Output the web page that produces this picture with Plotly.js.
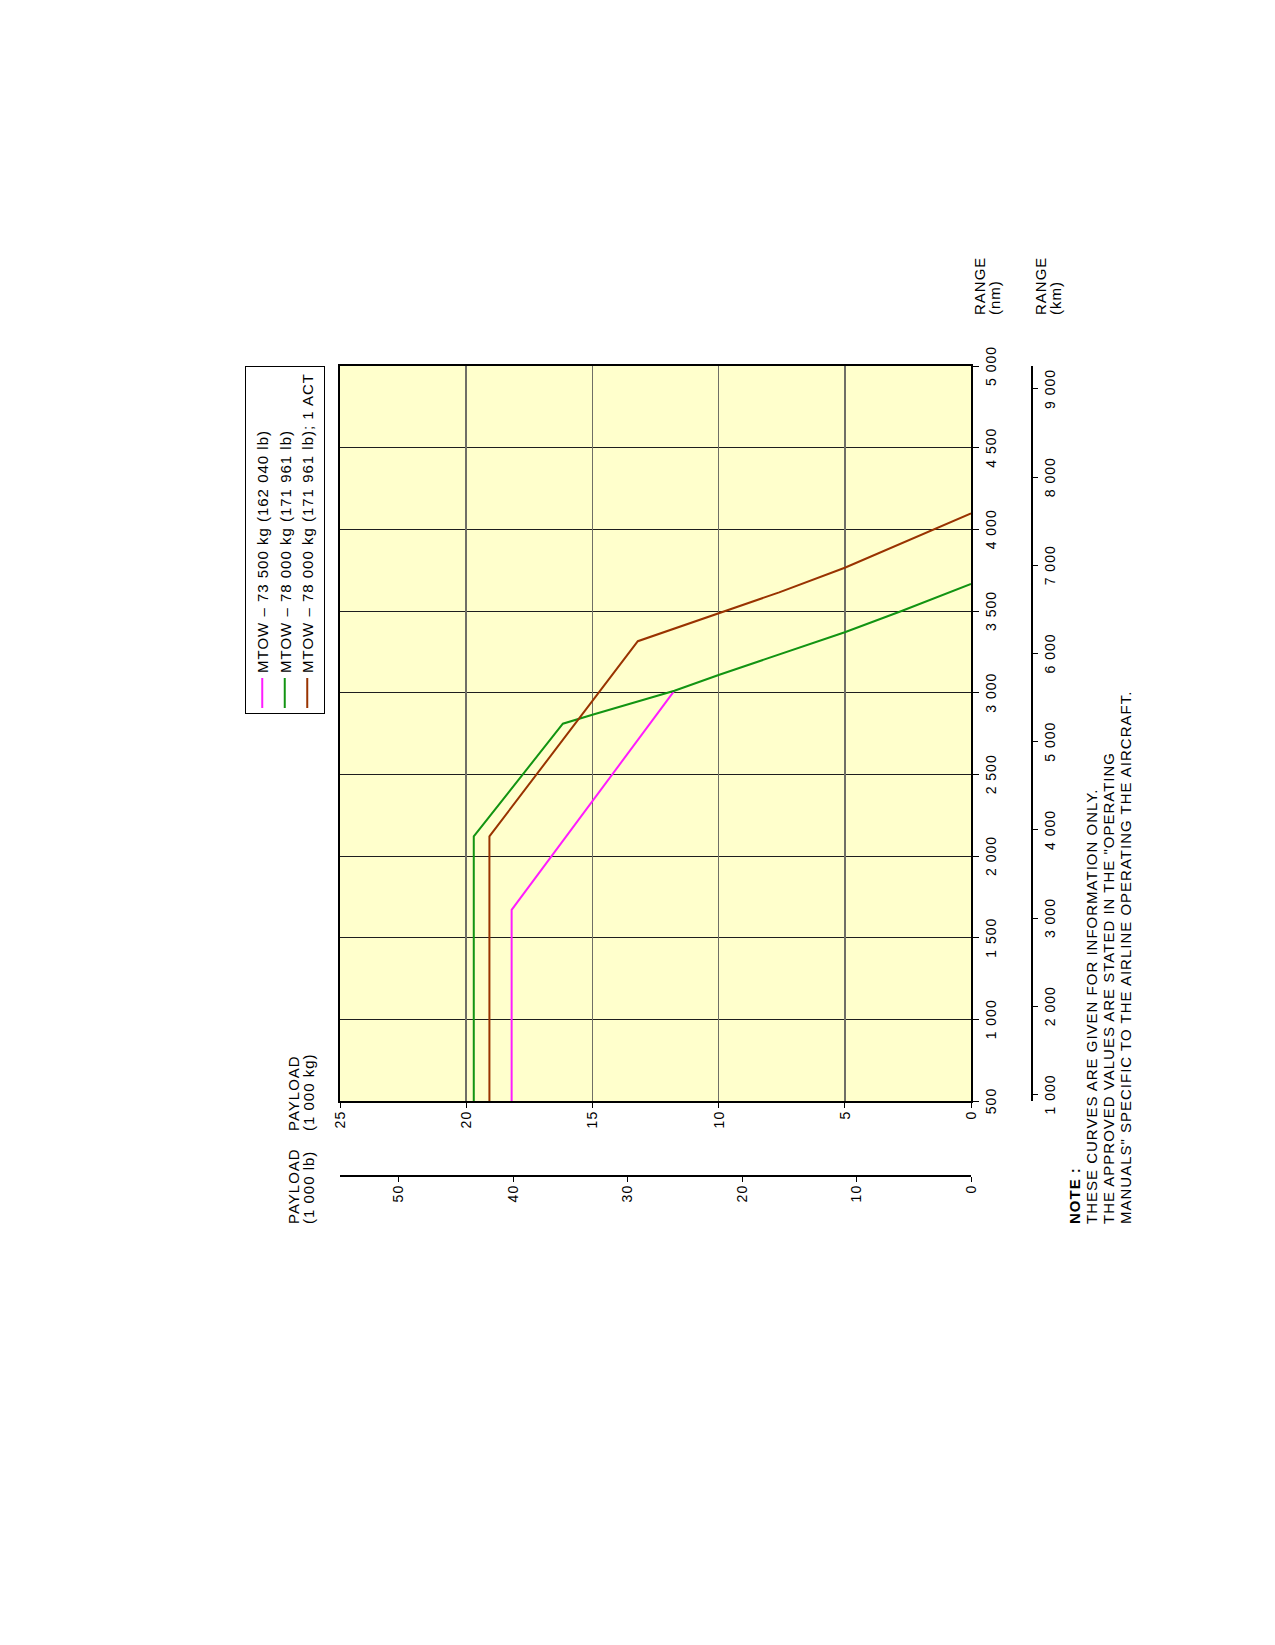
<!DOCTYPE html>
<html>
<head>
<meta charset="utf-8">
<script src="https://cdn.plot.ly/plotly-3.0.1.min.js"></script>
<style>
html,body{margin:0;padding:0;width:1275px;height:1645px;overflow:hidden;background:#fff;}
#wrap{position:absolute;left:0;top:0;width:1645px;height:1275px;transform-origin:0 0;transform:translate(0,1645px) rotate(-90deg);}
svg text{letter-spacing:1px;}
</style>
</head>
<body>
<div id="wrap"><div id="chart" style="width:1645px;height:1275px;"></div></div>
<script>
// ---- data (range in nm, payload in 1 000 kg) ----
const seriesNames = [
  'MTOW \u2013 73 500 kg (162 040 lb)',
  'MTOW \u2013 78 000 kg (171 961 lb)',
  'MTOW \u2013 78 000 kg (171 961 lb); 1 ACT'
];
const seriesColors = ['#ff1cff', '#129412', '#993300'];

const range73500 = [500, 1670, 3012];
const payload73500 = [18.2, 18.2, 11.75];

const range78000 = [500, 2120, 2810, 2865, 3012, 3108, 3370, 3500, 3665];
const payload78000 = [19.7, 19.7, 16.17, 15, 11.75, 10, 5, 2.75, 0];

const range78000act = [500, 2120, 3315, 3484, 3614, 3765, 3880, 4000, 4098];
const payload78000act = [19.08, 19.08, 13.2, 10, 7.6, 5, 3.25, 1.5, 0];

// ---- axes ticks ----
const rangeNmTicks = [500, 1000, 1500, 2000, 2500, 3000, 3500, 4000, 4500, 5000];
const rangeNmLabels = ['500', '1 000', '1 500', '2 000', '2 500', '3 000', '3 500', '4 000', '4 500', '5 000'];
const rangeKmTicks = [1000, 2000, 3000, 4000, 5000, 6000, 7000, 8000, 9000];
const rangeKmLabels = ['1 000', '2 000', '3 000', '4 000', '5 000', '6 000', '7 000', '8 000', '9 000'];
const payloadKgTicks = [0, 5, 10, 15, 20, 25];
const payloadKgLabels = ['0', '5', '10', '15', '20', '25'];
const payloadLbTicks = [0, 10, 20, 30, 40, 50];
const payloadLbLabels = ['0', '10', '20', '30', '40', '50'];

const noteLines = [
  '<b>NOTE :</b>',
  'THESE CURVES ARE GIVEN FOR INFORMATION ONLY.',
  'THE APPROVED VALUES ARE STATED IN THE "OPERATING',
  'MANUALS" SPECIFIC TO THE AIRLINE OPERATING THE AIRCRAFT.'
];

// ---- layout geometry ----
const W = 1645, H = 1275;
const M = {l: 469, r: 366, t: 340, b: 243};
const PW = W - M.l - M.r, PH = H - M.t - M.b;
function px(u) { return (u - M.l) / PW; }
function py(v) { return (H - M.b - v) / PH; }

const FONT = '"Liberation Sans", Arial, sans-serif';
const NM_TO_KM = 1.852, KG_TO_LB = 2.20462;

const mk = (x, y, i) => ({
  type: 'scatter', mode: 'lines', x: x, y: y, name: seriesNames[i],
  line: {color: seriesColors[i], width: 2}, hoverinfo: 'skip'
});

const data = [
  mk(range73500, payload73500, 0),
  mk(range78000, payload78000, 1),
  mk(range78000act, payload78000act, 2),
  {type: 'scatter', mode: 'lines', x: [], y: [], xaxis: 'x2', yaxis: 'y2', showlegend: false, hoverinfo: 'skip'}
];

function ann(text, u, v, size) {
  return {text: text, x: px(u), y: py(v), xref: 'paper', yref: 'paper',
    xanchor: 'left', yanchor: 'middle', showarrow: false,
    font: {family: FONT, size: size || 15, color: '#000'}};
}

const annotations = [
  ann('PAYLOAD', 512, 293), ann('(1 000 kg)', 512, 308),
  ann('PAYLOAD', 419, 293), ann('(1 000 lb)', 419, 308),
  ann('RANGE', 1328, 979), ann('(nm)', 1328, 994),
  ann('RANGE', 1328, 1040), ann('(km)', 1328, 1055),
  ann(noteLines[0], 419, 1074), ann(noteLines[1], 419, 1091),
  ann(noteLines[2], 419, 1108), ann(noteLines[3], 419, 1125)
];

const tickFont = {family: FONT, size: 14, color: '#000'};

const layout = {
  width: W, height: H,
  margin: M,
  paper_bgcolor: '#ffffff',
  plot_bgcolor: '#ffffcc',
  font: {family: FONT, color: '#000'},
  showlegend: true,
  legend: {
    x: 1, xanchor: 'right', y: py(325), yanchor: 'bottom',
    bgcolor: '#ffffff', bordercolor: '#000', borderwidth: 1,
    font: {family: FONT, size: 15, color: '#000'},
    itemwidth: 30, tracegroupgap: 0
  },
  xaxis: {
    domain: [px(544), 1], anchor: 'y', range: [500, 5000],
    tickvals: rangeNmTicks, ticktext: rangeNmLabels, tickfont: tickFont,
    ticks: 'outside', ticklen: 6, tickcolor: '#000', tickwidth: 1,
    showgrid: true, gridcolor: '#1e1e1e', gridwidth: 1,
    showline: true, mirror: true, linecolor: '#000', linewidth: 2,
    zeroline: false, tickangle: 0
  },
  yaxis: {
    domain: [py(971), 1], anchor: 'x', range: [0, 25],
    tickvals: payloadKgTicks, ticktext: payloadKgLabels, tickfont: tickFont,
    ticks: 'outside', ticklen: 5, tickcolor: '#000', tickwidth: 1,
    showgrid: true, gridcolor: '#6f6f66', gridwidth: 1.6,
    showline: true, mirror: true, linecolor: '#000', linewidth: 2,
    zeroline: false
  },
  xaxis2: {
    overlaying: 'x', anchor: 'free', position: 0, side: 'bottom',
    range: [500 * NM_TO_KM, 5000 * NM_TO_KM],
    tickvals: rangeKmTicks, ticktext: rangeKmLabels, tickfont: tickFont,
    ticks: 'outside', ticklen: 5, tickcolor: '#000', tickwidth: 1,
    showgrid: false, showline: true, linecolor: '#000', linewidth: 2,
    zeroline: false, tickangle: 0
  },
  yaxis2: {
    overlaying: 'y', anchor: 'free', position: 0, side: 'left',
    range: [0, 25 * KG_TO_LB],
    tickvals: payloadLbTicks, ticktext: payloadLbLabels, tickfont: tickFont,
    ticks: 'outside', ticklen: 5, tickcolor: '#000', tickwidth: 1,
    showgrid: false, showline: true, linecolor: '#000', linewidth: 2.5,
    zeroline: false
  },
  annotations: annotations
};

Plotly.newPlot('chart', data, layout, {staticPlot: true, displayModeBar: false});
</script>
</body>
</html>
